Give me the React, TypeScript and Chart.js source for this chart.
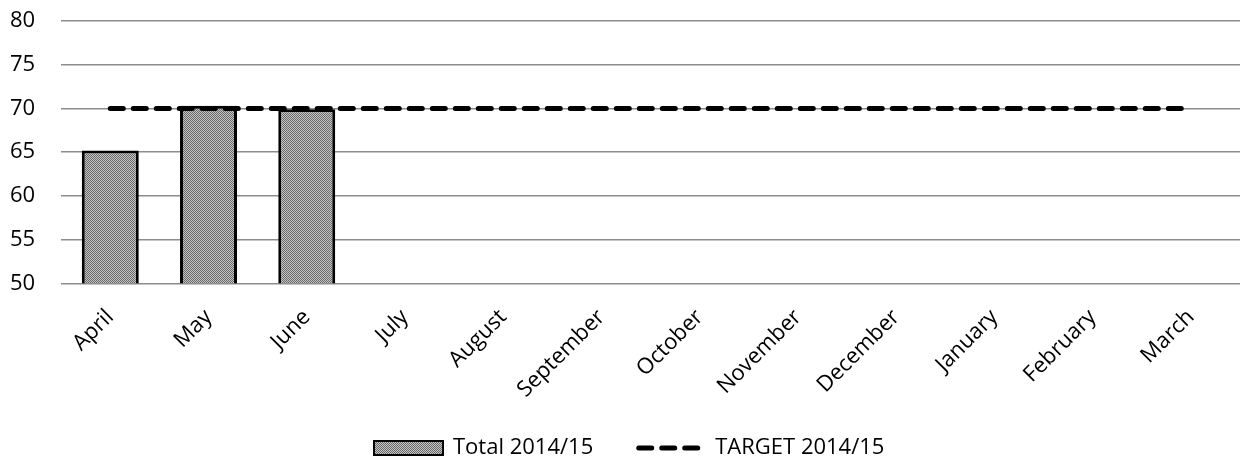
import React, { useEffect, useRef } from "react";
import { Chart, registerables } from "chart.js";

Chart.register(...registerables);

const categories = ["April", "May", "June", "July", "August", "September", "October", "November", "December", "January", "February", "March"];
const totalValues: (number | null)[] = [65.2, 70.3, 69.9, null, null, null, null, null, null, null, null, null];
const targetValues = [70, 70, 70, 70, 70, 70, 70, 70, 70, 70, 70, 70];
const seriesNames = ["Total 2014/15", "TARGET 2014/15"];

const FONT = "'Open Sans', sans-serif";
const FONT_SIZE = 22;

function makePattern(): CanvasPattern | string {
  const c = document.createElement("canvas");
  c.width = 2;
  c.height = 2;
  const x = c.getContext("2d");
  if (!x) return "#999";
  x.fillStyle = "#c4c4c4";
  x.fillRect(0, 0, 2, 2);
  x.fillStyle = "#6a6a6a";
  x.fillRect(0, 0, 1, 1);
  x.fillRect(1, 1, 1, 1);
  const p = x.createPattern(c, "repeat");
  return p || "#999";
}

export default function App() {
  const ref = useRef<HTMLCanvasElement>(null);
  useEffect(() => {
    document.body.style.margin = "0";
    if (!ref.current) return;
    const pattern = makePattern();

    const legendPlugin = {
      id: "customLegend",
      afterDraw(chart: any) {
        const ctx = chart.ctx as CanvasRenderingContext2D;
        const cy = 448;
        let x = 374;
        ctx.save();
        ctx.font = `${FONT_SIZE}px ${FONT}`;
        ctx.textBaseline = "middle";
        const boxW = 69;
        const boxH = 14;
        ctx.fillStyle = pattern as any;
        ctx.fillRect(x, cy - boxH / 2, boxW, boxH);
        ctx.strokeStyle = "#000";
        ctx.lineWidth = 2;
        ctx.strokeRect(x, cy - boxH / 2, boxW, boxH);
        x += boxW + 10;
        ctx.fillStyle = "#000";
        ctx.fillText(seriesNames[0], x, cy);
        x += ctx.measureText(seriesNames[0]).width + 43;
        const lineW = 64;
        ctx.beginPath();
        ctx.setLineDash([13, 10]);
        ctx.lineCap = "round";
        ctx.lineWidth = 5;
        ctx.moveTo(x + 2.5, cy);
        ctx.lineTo(x + lineW - 2, cy);
        ctx.stroke();
        ctx.setLineDash([]);
        x += lineW + 15;
        ctx.fillText(seriesNames[1], x, cy);
        ctx.restore();
      },
    };

    const zeroPad = (scale: any) => {
      scale.paddingLeft = 0;
      scale.paddingRight = 0;
      scale.paddingTop = 0;
      scale.paddingBottom = 0;
    };

    const chart = new Chart(ref.current, {
      type: "bar",
      data: {
        labels: categories,
        datasets: [
          {
            type: "line",
            label: seriesNames[1],
            data: targetValues,
            borderColor: "#000",
            backgroundColor: "#000",
            borderWidth: 5,
            borderDash: [13, 10],
            borderCapStyle: "round",
            pointRadius: 0,
            order: 0,
          } as any,
          {
            type: "bar",
            label: seriesNames[0],
            data: totalValues,
            backgroundColor: pattern as any,
            borderColor: "#000",
            borderWidth: 3,
            categoryPercentage: 0.58,
            barPercentage: 1,
            order: 1,
          } as any,
        ],
      },
      options: {
        animation: false,
        responsive: false,
        maintainAspectRatio: false,
        layout: { padding: { top: 21, right: -5, left: -16, bottom: 49 } },
        plugins: {
          tooltip: { enabled: false },
          legend: { display: false },
        },
        scales: {
          x: {
            afterFit: zeroPad,
            grid: { display: false },
            border: { display: false },
            ticks: {
              font: { family: FONT, size: FONT_SIZE },
              color: "#000",
              minRotation: 45,
              maxRotation: 45,
              padding: 13,
            },
          },
          y: {
            afterFit: zeroPad,
            min: 50,
            max: 80,
            border: { display: false },
            grid: { color: "#8c8c8c", lineWidth: 1.5, drawTicks: false },
            ticks: {
              stepSize: 5,
              font: { family: FONT, size: FONT_SIZE },
              color: "#000",
              padding: 26,
            },
          },
        },
      },
      plugins: [legendPlugin],
    });
    return () => chart.destroy();
  }, []);
  return (
    <div style={{ width: 1240, height: 465 }}>
      <canvas ref={ref} width={1240} height={465} style={{ width: 1240, height: 465 }} />
    </div>
  );
}
